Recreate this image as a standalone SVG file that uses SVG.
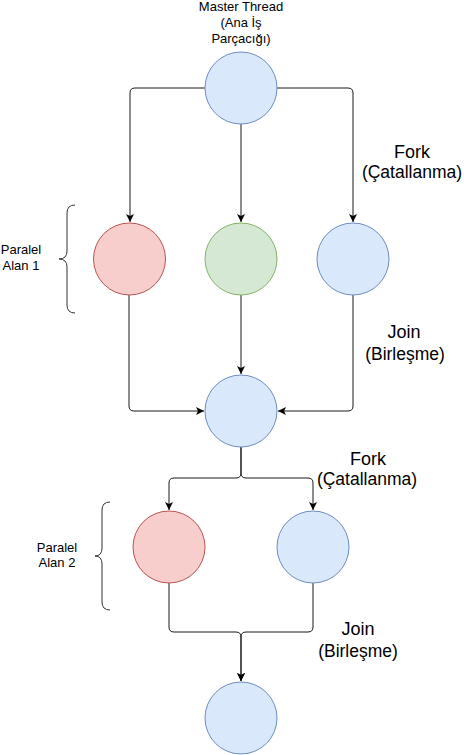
<svg xmlns="http://www.w3.org/2000/svg" width="464" height="755" viewBox="0 0 464 755">
<defs>
<style>
.blue{fill:#dae8fc;stroke:#6c8ebf;stroke-width:1}
.red{fill:#f8cecc;stroke:#b85450;stroke-width:1}
.green{fill:#d5e8d4;stroke:#82b366;stroke-width:1}
.edge{fill:none;stroke:#1a1a1a;stroke-width:1;marker-end:url(#arr)}
.brace{fill:none;stroke:#333;stroke-width:1}
text{font-family:"Liberation Sans",Arial,sans-serif;fill:#000;text-anchor:middle}
.sm{font-size:13px}
.lg{font-size:18px}
.md{font-size:17.5px}
</style>
<marker id="arr" markerUnits="userSpaceOnUse" markerWidth="10" markerHeight="10" refX="8" refY="4" orient="auto" viewBox="0 0 10 8">
<path d="M0,0 L8,4 L0,8 L2,4 Z" fill="#000"/>
</marker>
</defs>
<rect width="464" height="755" fill="#fff"/>
<g id="connectors">
<path class="edge" d="M205,88 H135 Q130,88 130,93 V222"/>
<path class="edge" d="M241,124 V222"/>
<path class="edge" d="M277,88 H348 Q353,88 353,93 V222"/>
<path class="edge" d="M129,295 V406 Q129,411 134,411 H204"/>
<path class="edge" d="M241,295 V374"/>
<path class="edge" d="M353,295 V406 Q353,411 348,411 H278"/>
<path class="edge" d="M241,447 V473 Q241,478 236,478 H174 Q169,478 169,483 V510"/>
<path class="edge" d="M241,447 V473 Q241,478 246,478 H308 Q313,478 313,483 V510"/>
<path class="edge" d="M169,583 V627 Q169,632 174,632 H236 Q241,632 241,637 V681"/>
<path class="edge" d="M313,583 V627 Q313,632 308,632 H246 Q241,632 241,637 V681"/>
</g>
<g id="master">
<circle class="blue" cx="241" cy="88" r="36"/>
<text class="sm" x="241" y="11">Master Thread</text>
<text class="sm" x="241" y="27">(Ana İş</text>
<text class="sm" x="241" y="43">Parçacığı)</text>
</g>
<g id="p1a"><circle class="red" cx="129.5" cy="259" r="36"/></g>
<g id="p1b"><circle class="green" cx="241" cy="259" r="36"/></g>
<g id="p1c"><circle class="blue" cx="353" cy="259" r="36"/></g>
<g id="mid"><circle class="blue" cx="241" cy="411" r="36"/></g>
<g id="p2a"><circle class="red" cx="169" cy="547" r="36"/></g>
<g id="p2b"><circle class="blue" cx="313" cy="547" r="36"/></g>
<g id="end"><circle class="blue" cx="241" cy="718" r="36"/></g>
<g id="brace1">
<path class="brace" d="M75,205 Q67,205 67,213 V251 Q67,259 59,259 Q67,259 67,267 V305 Q67,313 75,313"/>
<text class="sm" x="21" y="254">Paralel</text>
<text class="sm" x="21" y="270">Alan 1</text>
</g>
<g id="brace2">
<path class="brace" d="M110,502 Q102,502 102,510 V548 Q102,556 95,556 Q102,556 102,564 V602 Q102,610 110,610"/>
<text class="sm" x="57" y="552">Paralel</text>
<text class="sm" x="57" y="567">Alan 2</text>
</g>
<g id="fork1">
<text class="lg" x="412" y="158">Fork</text>
<text class="md" x="412" y="178">(Çatallanma)</text>
</g>
<g id="join1">
<text class="lg" x="404" y="338">Join</text>
<text class="md" x="405" y="360">(Birleşme)</text>
</g>
<g id="fork2">
<text class="lg" x="368" y="465">Fork</text>
<text class="md" x="367" y="485">(Çatallanma)</text>
</g>
<g id="join2">
<text class="lg" x="358" y="635">Join</text>
<text class="md" x="358" y="657">(Birleşme)</text>
</g>
</svg>
